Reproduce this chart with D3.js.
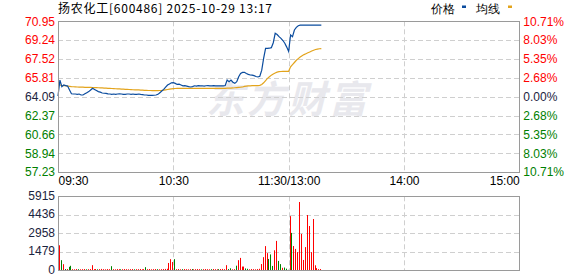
<!DOCTYPE html>
<html>
<head>
<meta charset="utf-8">
<script src="https://cdn.jsdelivr.net/npm/d3@7"></script>
<style>
body { margin: 0; background: #fff; }
svg { display: block; }
text { font-family: "Liberation Sans", Arial, sans-serif; }
</style>
</head>
<body>
<svg width="578" height="276"></svg>
<script>
// 扬农化工 intraday, one value per minute from 09:30 (lunch break removed)
var prevClose = 64.09;

var prices = [
    64.15, 65.60, 65.00, 65.15, 65.10, 65.05, 64.70, 64.35, 64.33, 64.33,
    64.30, 64.33, 64.24, 64.24, 64.35, 64.45, 64.55, 64.70, 64.85, 64.75,
    64.65, 64.55, 64.50, 64.42, 64.40, 64.39, 64.35, 64.33, 64.30, 64.33,
    64.30, 64.33, 64.35, 64.33, 64.30, 64.30, 64.33, 64.33, 64.30, 64.33,
    64.30, 64.30, 64.33, 64.30, 64.28, 64.24, 64.24, 64.20, 64.20, 64.20,
    64.22, 64.24, 64.30, 64.45, 64.60, 64.75, 64.95, 65.15, 65.25, 65.35,
    65.36, 65.30, 65.20, 65.22, 65.15, 65.08, 65.10, 65.05, 65.00, 64.97,
    65.00, 65.08, 65.05, 65.10, 65.08, 65.08, 65.05, 65.08, 65.10, 65.08,
    65.08, 65.10, 65.08, 65.08, 65.08, 65.08, 65.08, 65.10, 65.60, 65.45,
    65.60, 65.40, 65.30, 65.45, 65.90, 66.21, 66.30, 66.31, 66.20, 66.12,
    66.06, 66.05, 66.00, 65.92, 65.88, 65.95, 66.50, 67.60, 68.49, 68.49,
    68.50, 68.55, 69.00, 69.86, 69.75, 69.55, 69.40, 69.20, 68.95, 68.60,
    68.20, 69.70, 69.55, 70.16, 70.40, 70.55, 70.60, 70.60, 70.60, 70.60,
    70.60, 70.60, 70.60, 70.60, 70.60, 70.60, 70.60, 70.60
];

var avgPrices = [
    65.15, 65.15, 65.12, 65.10, 65.08, 65.06, 65.03, 65.00, 64.99, 64.98,
    64.97, 64.96, 64.95, 64.95, 64.94, 64.94, 64.93, 64.93, 64.92, 64.92,
    64.91, 64.90, 64.89, 64.88, 64.87, 64.86, 64.85, 64.84, 64.83, 64.82,
    64.81, 64.80, 64.79, 64.78, 64.77, 64.76, 64.75, 64.74, 64.73, 64.72,
    64.71, 64.70, 64.70, 64.69, 64.68, 64.67, 64.66, 64.65, 64.65, 64.64,
    64.64, 64.64, 64.64, 64.65, 64.66, 64.68, 64.71, 64.74, 64.77, 64.80,
    64.82, 64.83, 64.84, 64.84, 64.84, 64.85, 64.85, 64.85, 64.85, 64.85,
    64.85, 64.85, 64.85, 64.85, 64.85, 64.85, 64.85, 64.85, 64.85, 64.85,
    64.85, 64.85, 64.85, 64.85, 64.85, 64.85, 64.85, 64.85, 64.86, 64.86,
    64.87, 64.88, 64.90, 64.92, 64.94, 64.95, 64.97, 65.02, 65.05, 65.07,
    65.08, 65.09, 65.10, 65.10, 65.10, 65.12, 65.20, 65.35, 65.55, 65.75,
    65.90, 66.05, 66.15, 66.25, 66.32, 66.36, 66.38, 66.40, 66.40, 66.40,
    66.40, 66.80, 67.00, 67.20, 67.40, 67.55, 67.70, 67.82, 67.92, 68.00,
    68.08, 68.16, 68.24, 68.32, 68.38, 68.42, 68.45, 68.46
];

var volumes = [
    0, 2000, 810, 490, 100, 100, 280, 360, 90, 80,
    100, 90, 80, 90, 100, 80, 90, 100, 410, 90,
    100, 80, 90, 110, 90, 80, 100, 90, 330, 90,
    80, 100, 90, 80, 90, 100, 90, 80, 90, 100,
    80, 90, 90, 100, 80, 90, 250, 90, 100, 80,
    90, 100, 90, 80, 90, 100, 110, 120, 585, 890,
    660, 890, 90, 100, 80, 90, 100, 90, 80, 90,
    100, 80, 90, 100, 90, 80, 90, 100, 90, 80,
    90, 100, 90, 80, 90, 100, 110, 90, 410, 100,
    160, 80, 90, 370, 810, 990, 300, 300, 150, 120,
    80, 100, 90, 80, 100, 120, 500, 1050, 1935, 1375,
    908, 1270, 350, 1600, 2350, 748, 495, 200, 220, 130,
    40, 4330, 2990, 1940, 1710, 1455, 5460, 2910, 828, 1855,
    4420, 3540, 1455, 4100, 400, 175, 95, 100
];

// minutes whose volume bar is drawn green (price fell)
var downMinutes = [2, 4, 6, 7, 11, 15, 21, 28, 33, 40, 46, 52, 61, 65, 70, 75,
    80, 84, 89, 90, 93, 98, 99, 110, 111, 112, 115, 116, 118, 119, 120, 122];

var priceTicks = [70.95, 69.24, 67.52, 65.81, 64.09, 62.37, 60.66, 58.94, 57.23];
var pctTicks = ["10.71%", "8.03%", "5.35%", "2.68%", "0.00%", "2.68%", "5.35%", "8.03%", "10.71%"];
var volTicks = [5915, 4436, 2958, 1479, 0];
var timeTicks = [0, 60, 120, 180, 240];
var timeLabels = ["09:30", "10:30", "11:30/13:00", "14:00", "15:00"];

var RED = "#ff0000", GREEN = "#008000", DARK = "#1b2440";
var PRICE_COLOR = "#0b4c9e", AVG_COLOR = "#e3a41c";

var svg = d3.select("svg");

var left = 58, right = 519.3;
var x = d3.scaleLinear().domain([0, 240]).range([left, right]);
var y = d3.scaleLinear().domain([57.23, 70.95]).range([172, 21.3]);
var yv = d3.scaleLinear().domain([0, 5915]).range([270.3, 196.3]);

function colorFor(v) {
    if (Math.abs(v - prevClose) < 0.005) return DARK;
    return v > prevClose ? RED : GREEN;
}

// title + legend
svg.append("text")
    .attr("x", 58).attr("y", 13)
    .style("font-family", "'Noto Sans CJK SC', sans-serif")
    .style("font-size", "12px")
    .attr("letter-spacing", 0.75)
    .attr("fill", "#000")
    .text("扬农化工[600486] 2025-10-29 13:17");

var legend = svg.append("g").style("font-family", "'Noto Sans CJK SC', sans-serif").style("font-size", "12px");
legend.append("text").attr("x", 431).attr("y", 13).text("价格");
legend.append("rect").attr("x", 462).attr("y", 5.5).attr("width", 4).attr("height", 2.5).attr("fill", PRICE_COLOR);
legend.append("text").attr("x", 476).attr("y", 13).text("均线");
legend.append("rect").attr("x", 508).attr("y", 5.5).attr("width", 4).attr("height", 2.5).attr("fill", AVG_COLOR);

// watermark
svg.append("text")
    .attr("x", 206).attr("y", 113)
    .style("font-family", "'Noto Sans CJK SC', sans-serif")
    .style("font-size", "38px")
    .style("font-weight", "bold")
    .style("font-style", "italic")
    .attr("letter-spacing", 3)
    .attr("fill", "#e8e8ed")
    .text("东方财富");

// grids
function grid(yScale, values, top, bottom) {
    var g = svg.append("g")
        .attr("stroke", "#cfcfcf")
        .attr("stroke-dasharray", "5,3");
    g.selectAll("line.h")
        .data(values)
        .enter().append("line")
        .attr("x1", left).attr("x2", right)
        .attr("y1", function (d) { return Math.round(yScale(d)) + 0.5; })
        .attr("y2", function (d) { return Math.round(yScale(d)) + 0.5; });
    g.selectAll("line.v")
        .data([60, 120, 180])
        .enter().append("line")
        .attr("y1", top).attr("y2", bottom)
        .attr("x1", function (d) { return Math.round(x(d)) + 0.5; })
        .attr("x2", function (d) { return Math.round(x(d)) + 0.5; });
}
grid(y, priceTicks.slice(1, -1), 21.3, 172);
grid(yv, volTicks.slice(1, -1), 196.3, 270.3);

// price + average lines
var line = d3.line()
    .x(function (d, i) { return x(i); })
    .y(function (d) { return y(d); });

svg.append("path")
    .datum(avgPrices)
    .attr("fill", "none")
    .attr("stroke", AVG_COLOR)
    .attr("stroke-width", 1.2)
    .attr("d", line);

svg.append("path")
    .datum(prices)
    .attr("fill", "none")
    .attr("stroke", PRICE_COLOR)
    .attr("stroke-width", 1.2)
    .attr("d", line);

// volume bars
svg.append("g")
    .selectAll("rect")
    .data(volumes)
    .enter().append("rect")
    .attr("x", function (d, i) { return Math.round(x(i)) - 1; })
    .attr("width", 1)
    .attr("y", function (d) { return yv(d); })
    .attr("height", function (d) { return yv(0) - yv(d); })
    .attr("fill", function (d, i) { return downMinutes.indexOf(i) >= 0 ? GREEN : RED; });

// frames
[[21.3, 172], [196.3, 270.3]].forEach(function (r) {
    svg.append("rect")
        .attr("x", left + 0.5).attr("y", Math.round(r[0]) + 0.5)
        .attr("width", Math.round(right - left)).attr("height", Math.round(r[1] - r[0]))
        .attr("fill", "none")
        .attr("stroke", "#9a9a9a");
});

// axes
var yAxis = svg.append("g")
    .attr("transform", "translate(" + (left - 3) + ",0)")
    .call(d3.axisLeft(y).tickValues(priceTicks).tickSize(0).tickFormat(d3.format(".2f")));
yAxis.select(".domain").remove();
yAxis.selectAll("text")
    .attr("x", 0)
    .style("font-size", "12px")
    .attr("fill", function (d) { return colorFor(d); });

var pctAxis = svg.append("g")
    .attr("transform", "translate(" + (right + 1) + ",0)")
    .call(d3.axisRight(y).tickValues(priceTicks).tickSize(0)
        .tickFormat(function (d, i) { return pctTicks[i]; }));
pctAxis.select(".domain").remove();
pctAxis.selectAll("text")
    .attr("x", 3)
    .style("font-size", "12px")
    .attr("fill", function (d) { return colorFor(d); });

var volAxis = svg.append("g")
    .attr("transform", "translate(" + (left - 3) + ",-1)")
    .call(d3.axisLeft(yv).tickValues(volTicks).tickSize(0).tickFormat(d3.format("d")));
volAxis.select(".domain").remove();
volAxis.selectAll("text")
    .attr("x", 0)
    .style("font-size", "12px")
    .attr("fill", DARK);

var xAxis = svg.append("g")
    .attr("transform", "translate(0,172)")
    .call(d3.axisBottom(x).tickValues(timeTicks).tickSize(0)
        .tickFormat(function (d, i) { return timeLabels[i]; }));
xAxis.select(".domain").remove();
xAxis.selectAll("text")
    .attr("y", 4)
    .style("font-size", "12px")
    .attr("fill", "#000")
    .attr("text-anchor", function (d, i) {
        return i === 0 ? "start" : (i === timeTicks.length - 1 ? "end" : "middle");
    });
</script>
</body>
</html>
